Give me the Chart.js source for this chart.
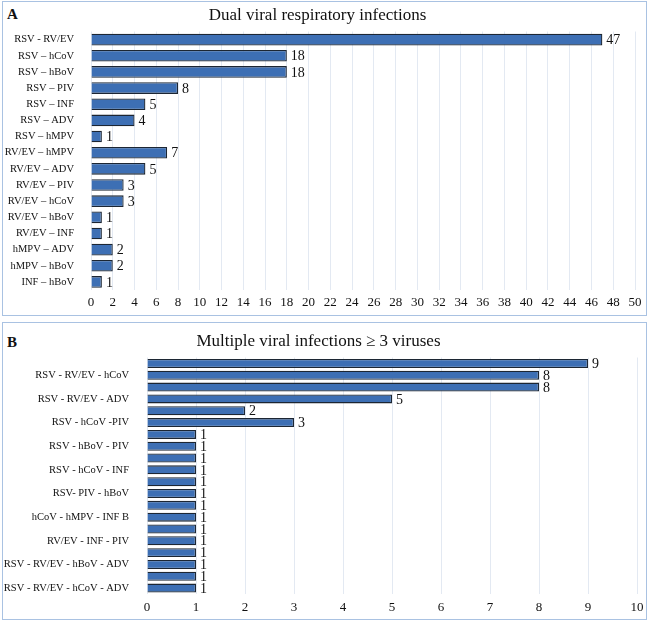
<!DOCTYPE html>
<html>
<head>
<meta charset="utf-8">
<script src="https://cdn.jsdelivr.net/npm/chart.js@4"></script>
<style>
  body { margin: 0; background: #fff; width: 650px; height: 621px; position: relative; overflow: hidden; }
  .panel { position: absolute; left: 2px; width: 645px; border: 1.5px solid #a9c2e2; box-sizing: border-box; }
  .tag { position: absolute; font-family: "Liberation Serif", serif; font-size: 15px; font-weight: bold; color: #111; }
  canvas { position: absolute; left: 0; }
</style>
</head>
<body>
<div class="panel" style="top:1px;height:315px;"></div>
<div class="panel" style="top:322px;height:298px;"></div>
<div class="tag" style="left:7px;top:6px;">A</div>
<div class="tag" style="left:7px;top:334px;">B</div>
<canvas id="dual" width="650" height="316" style="top:0;"></canvas>
<canvas id="multi" width="650" height="297" style="top:324px;"></canvas>
<script>
// Dual infections (panel A)
const dualLabels = ['RSV - RV/EV', 'RSV – hCoV', 'RSV – hBoV', 'RSV – PIV', 'RSV – INF', 'RSV – ADV', 'RSV – hMPV',
  'RV/EV – hMPV', 'RV/EV – ADV', 'RV/EV – PIV', 'RV/EV – hCoV', 'RV/EV – hBoV', 'RV/EV – INF',
  'hMPV – ADV', 'hMPV – hBoV', 'INF – hBoV'];
const dualCounts = [47, 18, 18, 8, 5, 4, 1, 7, 5, 3, 3, 1, 1, 2, 2, 1];
const dualTicks = [0, 2, 4, 6, 8, 10, 12, 14, 16, 18, 20, 22, 24, 26, 28, 30, 32, 34, 36, 38, 40, 42, 44, 46, 48, 50];

// Multiple infections >= 3 viruses (panel B); only every other label is shown in the figure
const multiLabels = ['', 'RSV - RV/EV - hCoV', '', 'RSV - RV/EV - ADV', '', 'RSV - hCoV -PIV',
  '', 'RSV - hBoV - PIV', '', 'RSV - hCoV - INF', '', 'RSV- PIV - hBoV', '', 'hCoV - hMPV - INF B',
  '', 'RV/EV - INF - PIV', '', 'RSV - RV/EV - hBoV - ADV', '', 'RSV - RV/EV - hCoV - ADV'];
const multiCounts = [9, 8, 8, 5, 2, 3, 1, 1, 1, 1, 1, 1, 1, 1, 1, 1, 1, 1, 1, 1];
const multiTicks = [0, 1, 2, 3, 4, 5, 6, 7, 8, 9, 10];

const serif = '"Liberation Serif", "Times New Roman", serif';
Chart.defaults.font.family = serif;
Chart.defaults.color = '#111';

// writes the count just right of each bar
const valueLabels = {
    id: 'valueLabels',
    afterDatasetsDraw(chart) {
        const ctx = chart.ctx;
        const meta = chart.getDatasetMeta(0);
        const data = chart.data.datasets[0].data;
        ctx.save();
        ctx.font = chart.options.plugins.valueLabels.size + 'px ' + serif;
        ctx.fillStyle = '#111';
        ctx.textBaseline = 'middle';
        meta.data.forEach((bar, i) => {
            ctx.fillText(String(data[i]), bar.x + 4, bar.y + 1);
        });
        ctx.restore();
    }
};

function makeChart(id, labels, counts, cfg) {
    return new Chart(document.getElementById(id), {
        type: 'bar',
        data: {
            labels: labels,
            datasets: [{
                data: counts,
                backgroundColor: '#3d6fb4',
                borderColor: '#1c2633',
                borderWidth: 1.3,
                categoryPercentage: cfg.barPct,
                barPercentage: 1
            }]
        },
        options: {
            indexAxis: 'y',
            responsive: false,
            animation: false,
            layout: { padding: { left: 0, right: cfg.padRight, top: 0, bottom: cfg.padBottom } },
            plugins: {
                legend: { display: false },
                tooltip: { enabled: false },
                title: {
                    display: true,
                    text: cfg.title,
                    font: { size: 17, weight: 'normal', family: serif, lineHeight: 1.15 },
                    color: '#111',
                    padding: { top: cfg.titleTop, bottom: cfg.titleBottom }
                },
                valueLabels: { size: cfg.valueSize }
            },
            scales: {
                x: {
                    min: cfg.min,
                    max: cfg.max,
                    afterBuildTicks: (scale) => { scale.ticks = cfg.ticks.map(v => ({ value: v })); },
                    afterFit: (scale) => { scale.height = 22; },
                    grid: { color: '#e3e9f2', drawTicks: false },
                    border: { display: false },
                    ticks: { padding: cfg.tickPad, font: { size: 13 }, color: '#111' }
                },
                y: {
                    afterFit: (scale) => { scale.width = cfg.yWidth; },
                    grid: { display: false },
                    border: { display: false },
                    ticks: { autoSkip: false, padding: cfg.labelPad, font: { size: cfg.labelSize }, color: '#111' }
                }
            }
        },
        plugins: [valueLabels]
    });
}

makeChart('dual', dualLabels, dualCounts, {
    title: 'Dual viral respiratory infections',
    min: 0, max: 50, ticks: dualTicks,
    yWidth: 91, padRight: 15, padBottom: 4, tickPad: 5,
    titleTop: 6, titleBottom: 6, barPct: 0.72, valueSize: 14,
    labelSize: 10.5, labelPad: 9
});

makeChart('multi', multiLabels, multiCounts, {
    title: 'Multiple viral infections ≥ 3 viruses',
    min: 0, max: 10, ticks: multiTicks,
    yWidth: 147, padRight: 13, padBottom: 5, tickPad: 6,
    titleTop: 8, titleBottom: 6, barPct: 0.76, valueSize: 14,
    labelSize: 10.5, labelPad: 10
});
</script>
</body>
</html>
